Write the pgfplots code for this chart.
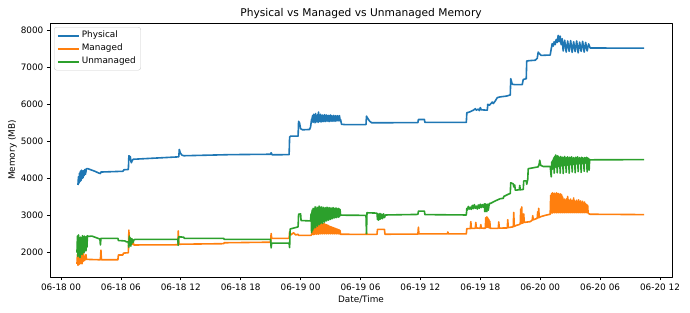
\documentclass[border=0pt]{standalone}
\usepackage{pgfplots}
\pgfplotsset{compat=1.18}
\usepackage{fontspec}
\setmainfont{DejaVu Sans}

\definecolor{tabblue}{HTML}{1F77B4}
\definecolor{taborange}{HTML}{FF7F0E}
\definecolor{tabgreen}{HTML}{2CA02C}

\newcommand{\tickfont}{\fontsize{8.9}{10.7}\selectfont}
\newcommand{\titlefont}{\fontsize{10.7}{12.8}\selectfont}

\begin{document}
\begin{tikzpicture}
\path[use as bounding box] (0,0) rectangle (690bp,313bp);
\begin{axis}[
  scale only axis, width=622bp, height=254bp,
  at={(50bp,36bp)}, anchor=south west,
  xmin=-1.1, xmax=61.2, ymin=1345, ymax=8205,
  xtick={0,6,...,60},
  xticklabels={06-18 00,06-18 06,06-18 12,06-18 18,06-19 00,06-19 06,06-19 12,06-19 18,06-20 00,06-20 06,06-20 12},
  ytick={2000,3000,...,8000},
  scaled y ticks=false,
  /pgf/number format/1000 sep={},
  /pgf/number format/assume math mode=true,
  tick label style={font=\tickfont},
  tick align=outside, tick pos=left,
  major tick length=3.1bp,
  every tick/.style={black, line width=0.7bp},
  axis line style={line width=0.7bp},
  title={Physical vs Managed vs Unmanaged Memory},
  every axis title/.style={font=\titlefont, at={(rel axis cs:0.5,1)}, anchor=center, yshift=9bp},
  xlabel={Date/Time},
  every axis x label/.style={font=\tickfont, at={(rel axis cs:0.5,0)}, anchor=center, yshift=-23bp},
  legend cell align=left,
  legend style={at={(0,1)}, anchor=north west, xshift=4bp, yshift=-4bp,
    draw=black!20, rounded corners=2.5bp, font=\tickfont,
    inner xsep=3bp, inner ysep=2bp, row sep=0bp,
    nodes={text height=6.5bp, text depth=2bp, inner ysep=2.25bp}},
  legend image code/.code={\draw[#1] (0bp,0bp) -- (21bp,0bp);},
  line join=round,
]

% Physical memory
\addplot[tabblue, line width=1.6bp] coordinates {
(1.70,3830)(1.75,4050)(1.80,3880)(1.85,4150)(1.90,3920)(1.95,4200)(2.00,3950)(2.05,4230)(2.10,4000)(2.15,4180)(2.20,4020)(2.25,4220)(2.30,4080)(2.40,4250)(2.45,4120)(2.55,4270)(2.70,4270)(3.00,4240)(3.40,4200)(3.80,4150)(3.95,4140)(4.00,4180)(6.20,4200)(6.30,4240)(6.75,4250)(6.80,4620)(6.95,4590)(7.00,4470)(7.05,4430)(7.15,4500)(7.25,4525)(11.80,4590)(11.85,4790)(11.95,4700)(12.10,4640)(12.30,4620)(17.00,4650)(21.00,4660)(21.05,4700)(21.15,4645)(22.85,4650)(22.90,5120)(23.00,5150)(23.75,5150)(23.80,5550)(23.90,5500)(24.00,5350)(24.20,5320)(24.90,5330)(25.00,5400)(25.10,5600)(25.15,5620)
(25.20,5700)(25.25,5520)(25.30,5740)(25.35,5540)(25.40,5720)(25.45,5510)(25.50,5760)(25.55,5530)(25.60,5700)(25.65,5550)(25.70,5730)(25.75,5520)(25.80,5800)(25.85,5540)(25.90,5710)(25.95,5560)(26.00,5740)(26.05,5530)(26.10,5690)(26.15,5550)(26.20,5720)(26.25,5540)(26.30,5700)(26.35,5560)(26.40,5730)(26.45,5540)(26.50,5690)(26.55,5570)(26.60,5720)(26.65,5550)(26.70,5700)(26.75,5560)(26.80,5710)(26.85,5540)(26.90,5690)(26.95,5570)(27.00,5720)(27.05,5550)(27.10,5700)(27.15,5560)(27.20,5690)(27.25,5550)(27.30,5710)(27.35,5570)(27.40,5680)(27.45,5550)(27.50,5700)(27.55,5560)(27.60,5690)(27.65,5570)(27.70,5700)(27.75,5560)(27.80,5690)(27.85,5580)(27.90,5700)(27.95,5560)(28.00,5600)
(28.10,5470)(28.50,5460)(30.55,5460)(30.60,5690)(30.70,5640)(30.90,5560)(31.10,5510)(35.75,5515)(35.80,5600)(36.40,5600)(36.45,5520)(40.60,5520)(40.65,5780)(41.00,5810)(41.30,5850)(41.50,5890)(41.60,5850)(41.80,5880)(41.90,5840)(42.00,5920)(42.10,5860)(42.70,5850)(42.75,6010)(42.90,5980)(43.20,6070)(43.30,6030)(43.50,6100)(43.70,6190)(44.00,6210)(44.60,6230)(45.00,6260)(45.05,6700)(45.20,6550)(45.50,6540)(46.20,6540)(46.30,6680)(46.60,6700)(46.65,7180)(47.00,7190)(47.50,7200)(47.70,7250)(47.80,7420)(47.90,7380)(48.10,7330)(49.00,7340)
(49.10,7500)(49.20,7650)(49.30,7580)(49.40,7700)(49.50,7620)(49.60,7760)(49.70,7680)(49.80,7870)(49.90,7700)(50.00,7850)(50.10,7620)(50.20,7780)(50.30,7450)(50.45,7740)(50.60,7420)(50.75,7720)(50.90,7440)(51.05,7730)(51.20,7410)(51.35,7700)(51.50,7430)(51.65,7720)(51.80,7400)(51.95,7690)(52.10,7440)(52.25,7710)(52.40,7420)(52.55,7680)(52.70,7450)(52.85,7640)(53.00,7530)(58.40,7525)
};
\addlegendentry{Physical}

% Managed memory
\addplot[taborange, line width=1.6bp] coordinates {
(1.60,1700)(1.65,1950)(1.70,1660)(1.75,2000)(1.80,1680)(1.85,1900)(1.90,1700)(1.95,2050)(2.00,1720)(2.05,1950)(2.10,1700)(2.15,1900)(2.20,1760)(2.25,1980)(2.30,1780)(2.35,1900)(2.40,1800)(2.50,1950)(2.55,1820)(2.70,1820)(3.95,1810)(4.00,2070)(4.05,1810)(5.70,1810)(5.75,1940)(6.20,1940)(6.25,1990)(6.75,2000)(6.80,2610)(6.85,2250)(6.90,2400)(6.95,2230)(7.00,2380)(7.10,2220)(7.20,2320)(7.30,2210)(11.70,2215)(11.75,2590)(11.80,2230)(16.30,2245)(16.35,2270)(21.00,2285)(21.05,2520)(21.10,2390)(22.85,2390)(22.90,2570)(23.00,2480)(23.30,2540)(23.50,2480)(23.75,2500)(23.80,2470)(25.05,2470)
(25.10,2490)(25.15,2650)(25.20,2500)(25.25,2700)(25.30,2490)(25.35,2720)(25.40,2500)(25.45,2690)(25.50,2510)(25.55,2750)(25.60,2500)(25.65,2760)(25.70,2510)(25.75,2780)(25.80,2500)(25.85,2770)(25.90,2520)(25.95,2800)(26.00,2510)(26.05,2790)(26.10,2520)(26.15,2810)(26.20,2510)(26.25,2780)(26.30,2520)(26.35,2790)(26.40,2510)(26.45,2770)(26.50,2520)(26.55,2760)(26.60,2510)(26.65,2750)(26.70,2520)(26.75,2740)(26.80,2510)(26.85,2720)(26.90,2520)(26.95,2710)(27.00,2510)(27.05,2700)(27.10,2520)(27.15,2690)(27.20,2510)(27.25,2680)(27.30,2520)(27.35,2670)(27.40,2510)(27.45,2660)(27.50,2520)(27.55,2650)(27.60,2510)(27.65,2640)(27.70,2520)(27.75,2630)(27.80,2510)(27.85,2620)(27.90,2510)(27.95,2600)(28.00,2500)
(30.55,2495)(30.60,2540)(30.65,2495)(31.65,2495)(31.70,2630)(32.40,2630)(32.45,2500)(35.75,2505)(35.80,2690)(35.85,2510)(38.70,2510)(38.75,2560)(38.80,2510)(40.60,2510)
(40.65,2650)(41.00,2650)(41.05,2840)(41.10,2660)(41.50,2660)(41.55,2820)(41.60,2670)(42.00,2660)(42.05,2760)(42.10,2665)(42.50,2660)(42.55,2950)(42.60,2680)(42.65,2970)(42.70,2690)(42.75,2940)(42.80,2680)(42.85,2900)(42.90,2670)(42.95,2850)(43.00,2660)(43.80,2660)(43.85,2830)(43.90,2665)(44.70,2670)(44.75,2890)(44.80,2680)(45.30,2700)(45.35,3090)(45.40,2710)(45.60,2740)(45.90,2760)(46.00,2780)(46.05,3180)(46.10,2790)(46.15,3240)(46.20,2800)(46.30,2810)(46.35,3050)(46.40,2820)(47.00,2840)(47.20,2880)(47.25,3000)(47.30,2890)(47.70,2930)(47.75,3110)(47.80,2940)(47.85,3200)(47.90,2950)(48.00,2970)(48.50,3010)(49.00,3040)
(49.05,3550)(49.10,3080)(49.15,3600)(49.20,3070)(49.25,3620)(49.30,3090)(49.35,3560)(49.40,3080)(49.45,3610)(49.50,3090)(49.55,3580)(49.60,3080)(49.65,3620)(49.70,3090)(49.75,3590)(49.80,3080)(49.85,3600)(49.90,3090)(49.95,3570)(50.00,3080)(50.05,3590)(50.10,3090)(50.15,3560)(50.20,3080)(50.25,3500)(50.30,3090)(50.35,3420)(50.40,3080)(50.45,3450)(50.50,3090)(50.55,3400)(50.60,3080)(50.65,3460)(50.70,3090)(50.75,3520)(50.80,3080)(50.85,3430)(50.90,3090)(50.95,3410)(51.00,3080)(51.05,3450)(51.10,3090)(51.15,3400)(51.20,3080)(51.25,3420)(51.30,3090)(51.35,3480)(51.40,3080)(51.45,3400)(51.50,3090)(51.55,3380)(51.60,3080)(51.65,3420)(51.70,3090)(51.75,3370)(51.80,3080)(51.85,3430)(51.90,3090)(51.95,3360)(52.00,3080)(52.05,3400)(52.10,3090)(52.15,3350)(52.20,3080)(52.25,3390)(52.30,3090)(52.35,3330)(52.40,3080)(52.45,3370)(52.50,3090)(52.55,3320)(52.60,3080)(52.65,3300)(52.70,3090)(52.75,3280)(52.80,3070)(52.90,3050)(53.00,3040)(58.40,3030)
};
\addlegendentry{Managed}

% Unmanaged memory
\addplot[tabgreen, line width=1.6bp] coordinates {
(1.60,2000)(1.65,2450)(1.70,1900)(1.75,2480)(1.80,1950)(1.85,2300)(1.90,1870)(1.95,2420)(2.00,2000)(2.05,2350)(2.10,1950)(2.15,2460)(2.20,2050)(2.25,2380)(2.30,2000)(2.35,2450)(2.40,2100)(2.45,2400)(2.50,2050)(2.55,2440)(2.60,2150)(2.65,2460)(2.70,2440)(3.10,2450)(3.90,2370)(3.95,2210)(4.00,2390)(5.70,2390)(5.75,2330)(6.40,2320)(6.50,2300)(6.75,2290)(6.80,2150)(6.85,2450)(6.90,2200)(6.95,2400)(7.00,2180)(7.05,2380)(7.10,2250)(7.15,2370)(7.20,2280)(7.30,2340)(7.40,2360)(11.70,2360)(11.75,2200)(11.80,2430)(12.30,2420)(12.35,2390)(16.30,2390)(16.35,2360)(21.00,2360)(21.05,2130)(21.10,2260)(22.85,2260)(22.90,2140)(22.95,2640)(23.20,2660)(23.50,2680)(23.75,2700)(23.80,3040)(24.00,3050)(24.05,2870)(24.95,2860)
(25.00,2880)(25.05,3050)(25.10,2550)(25.15,3150)(25.20,2600)(25.25,3200)(25.30,2650)(25.35,3180)(25.40,2700)(25.45,3240)(25.50,2680)(25.55,3190)(25.60,2750)(25.65,3230)(25.70,2720)(25.75,3200)(25.80,2780)(25.85,3260)(25.90,2760)(25.95,3210)(26.00,2800)(26.05,3240)(26.10,2820)(26.15,3200)(26.20,2790)(26.25,3230)(26.30,2850)(26.35,3190)(26.40,2830)(26.45,3220)(26.50,2870)(26.55,3200)(26.60,2860)(26.65,3230)(26.70,2890)(26.75,3190)(26.80,2880)(26.85,3220)(26.90,2910)(26.95,3200)(27.00,2900)(27.05,3210)(27.10,2930)(27.15,3190)(27.20,2920)(27.25,3220)(27.30,2950)(27.35,3200)(27.40,2940)(27.45,3190)(27.50,2960)(27.55,3210)(27.60,2950)(27.65,3180)(27.70,2970)(27.75,3200)(27.80,2960)(27.85,3190)(27.90,2980)(27.95,3170)(28.00,3020)
(28.05,3015)(30.55,3010)(30.60,2520)(30.65,3080)(31.65,3070)(31.70,2900)(31.75,3050)(31.80,2880)(31.85,3040)(31.90,2900)(31.95,3060)(32.00,2910)(32.10,3040)(32.20,2920)(32.30,3050)(32.40,2950)(32.50,3020)(35.75,3035)(35.80,3125)(36.40,3125)(36.45,3030)(40.60,3020)
(40.65,3200)(40.70,3150)(40.80,3250)(40.90,3180)(41.00,3230)(41.10,3170)(41.20,3280)(41.30,3190)(41.40,3300)(41.50,3200)(41.60,3260)(41.70,3180)(41.80,3290)(41.90,3200)(42.00,3310)(42.10,3220)(42.20,3300)(42.30,3230)(42.40,3320)(42.45,3110)(42.50,3320)(42.55,3120)(42.60,3300)(42.65,3110)(42.70,3310)(42.80,3150)(42.90,3330)(43.00,3330)(43.50,3400)(44.00,3460)(44.30,3470)(44.35,3520)(44.80,3580)(45.00,3600)(45.05,3890)(45.30,3860)(45.35,3780)(45.45,3830)(45.50,3690)(45.90,3700)(45.95,3820)(46.00,3700)(46.30,3710)(46.35,3940)(46.60,3940)(46.65,3850)(46.75,3980)(46.80,4270)(47.00,4280)(47.80,4320)(47.90,4400)(47.95,4500)(48.05,4360)(48.30,4330)(49.00,4330)
(49.05,4200)(49.10,4050)(49.15,4450)(49.20,4250)(49.25,4500)(49.30,4300)(49.35,4560)(49.40,4150)(49.45,4600)(49.50,4350)(49.55,4640)(49.60,4300)(49.65,4580)(49.70,4160)(49.75,4620)(49.80,4380)(49.85,4590)(49.90,4320)(49.95,4570)(50.00,4150)(50.05,4600)(50.10,4380)(50.15,4560)(50.20,4340)(50.25,4580)(50.30,4140)(50.35,4560)(50.40,4390)(50.45,4600)(50.50,4350)(50.55,4550)(50.60,4170)(50.65,4570)(50.70,4400)(50.75,4590)(50.80,4360)(50.85,4540)(50.90,4150)(50.95,4580)(51.00,4400)(51.05,4560)(51.10,4370)(51.15,4590)(51.20,4180)(51.25,4550)(51.30,4410)(51.35,4570)(51.40,4380)(51.45,4540)(51.50,4160)(51.55,4580)(51.60,4420)(51.65,4560)(51.70,4390)(51.75,4590)(51.80,4190)(51.85,4550)(51.90,4420)(51.95,4570)(52.00,4400)(52.05,4540)(52.10,4170)(52.15,4580)(52.20,4430)(52.25,4560)(52.30,4400)(52.35,4550)(52.40,4200)(52.45,4570)(52.50,4440)(52.55,4560)(52.60,4410)(52.65,4580)(52.70,4180)(52.75,4560)(52.80,4460)(52.85,4540)(52.90,4230)(52.95,4520)(53.00,4510)(58.40,4515)
};
\addlegendentry{Unmanaged}

\end{axis}
% vertical axis label, centred on the plot area
\node[font=\tickfont, rotate=90, anchor=center] at (12.5bp,163bp) {Memory (MB)};
\end{tikzpicture}
\end{document}
